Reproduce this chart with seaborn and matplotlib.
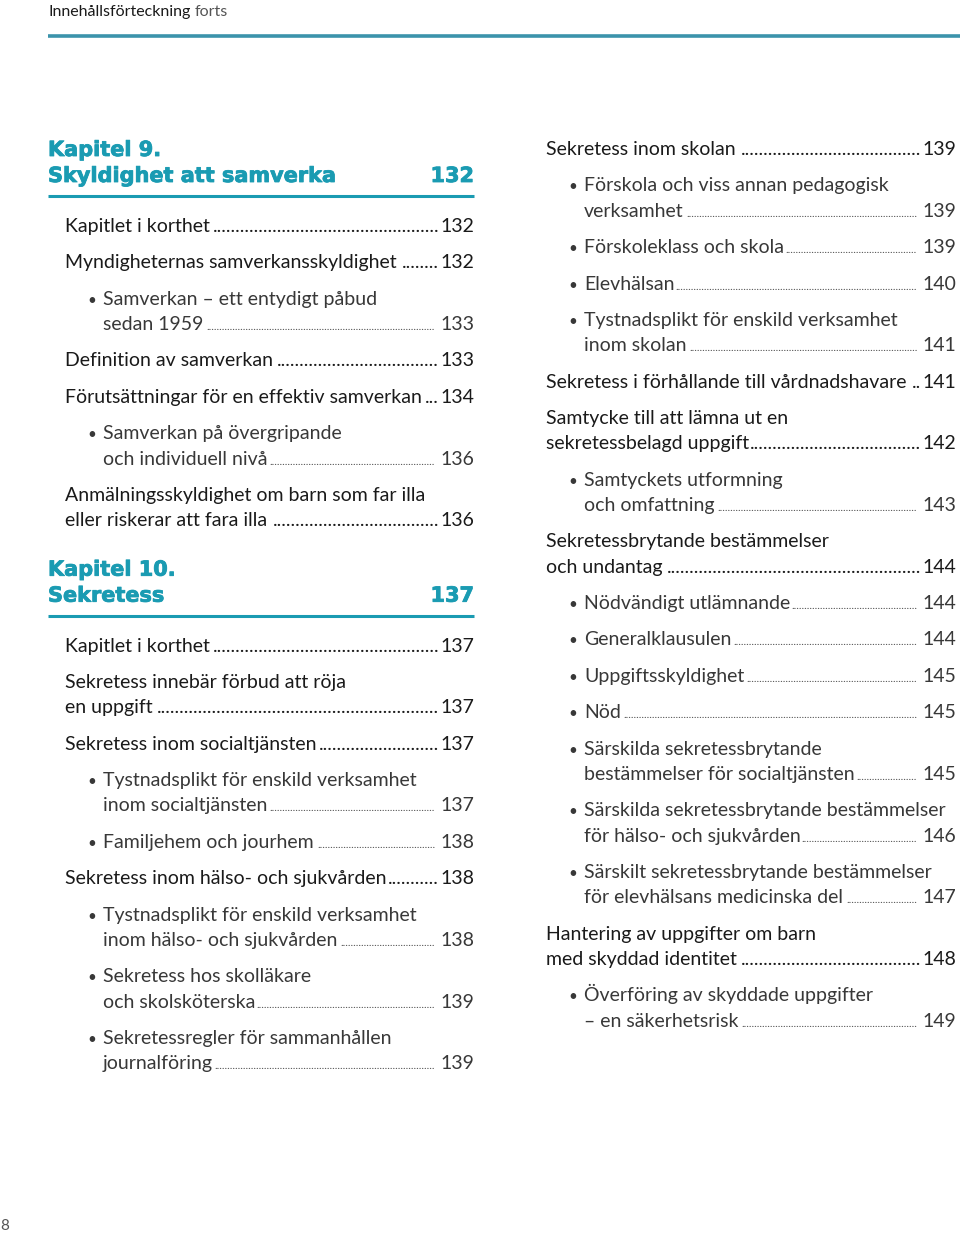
import matplotlib
matplotlib.use("Agg")
import matplotlib.pyplot as plt
import matplotlib.patheffects as pe
import seaborn as sns

# ---- data -------------------------------------------------------------
header_title = "Innehållsförteckning"
header_suffix = "forts"
folio = "8"

chapter_labels = ["Kapitel 9.", "Kapitel 10."]
chapter_titles = ["Skyldighet att samverka", "Sekretess"]
chapter_pages = ["132", "137"]

ch9_titles = [
    "Kapitlet i korthet",
    "Myndigheternas samverkansskyldighet",
    "Samverkan – ett entydigt påbud\nsedan 1959",
    "Definition av samverkan",
    "Förutsättningar för en effektiv samverkan",
    "Samverkan på övergripande\noch individuell nivå",
    "Anmälningsskyldighet om barn som far illa\neller riskerar att fara illa",
]
ch9_levels = [0, 0, 1, 0, 0, 1, 0]
ch9_pages = ["132", "132", "133", "133", "134", "136", "136"]

ch10_titles = [
    "Kapitlet i korthet",
    "Sekretess innebär förbud att röja\nen uppgift",
    "Sekretess inom socialtjänsten",
    "Tystnadsplikt för enskild verksamhet\ninom socialtjänsten",
    "Familjehem och jourhem",
    "Sekretess inom hälso- och sjukvården",
    "Tystnadsplikt för enskild verksamhet\ninom hälso- och sjukvården",
    "Sekretess hos skolläkare\noch skolsköterska",
    "Sekretessregler för sammanhållen\njournalföring",
]
ch10_levels = [0, 0, 0, 1, 1, 0, 1, 1, 1]
ch10_pages = ["137", "137", "137", "137", "138", "138", "138", "139", "139"]

right_titles = [
    "Sekretess inom skolan",
    "Förskola och viss annan pedagogisk\nverksamhet",
    "Förskoleklass och skola",
    "Elevhälsan",
    "Tystnadsplikt för enskild verksamhet\ninom skolan",
    "Sekretess i förhållande till vårdnadshavare",
    "Samtycke till att lämna ut en\nsekretessbelagd uppgift",
    "Samtyckets utformning\noch omfattning",
    "Sekretessbrytande bestämmelser\noch undantag",
    "Nödvändigt utlämnande",
    "Generalklausulen",
    "Uppgiftsskyldighet",
    "Nöd",
    "Särskilda sekretessbrytande\nbestämmelser för socialtjänsten",
    "Särskilda sekretessbrytande bestämmelser\nför hälso- och sjukvården",
    "Särskilt sekretessbrytande bestämmelser\nför elevhälsans medicinska del",
    "Hantering av uppgifter om barn\nmed skyddad identitet",
    "Överföring av skyddade uppgifter\n– en säkerhetsrisk",
]
right_levels = [0, 1, 1, 1, 1, 0, 0, 1, 0, 1, 1, 1, 1, 1, 1, 1, 0, 1]
right_pages = ["139", "139", "139", "140", "141", "141", "142", "143", "144",
               "144", "144", "145", "145", "145", "146", "147", "148", "149"]

# ---- style ------------------------------------------------------------
TEAL = "#1a9bb2"
INK = "#1a1a1a"
SUB_INK = "#383838"
FONT = "Lato"
MAIN_SIZE = 14
SUB_SIZE = 14
HEAD_SIZE = 15
LINE_STEP = 25.3
ENTRY_GAP = 36.4

sns.set_theme(style="white")
plt.rcParams["font.family"] = [FONT, "DejaVu Sans"]

fig = plt.figure(figsize=(9.6, 12.34), dpi=100)
ax = fig.add_axes([0, 0, 1, 1])
ax.set_xlim(0, 960)
ax.set_ylim(1234, 0)
ax.axis("off")
renderer = fig.canvas.get_renderer()
heavy = [pe.withStroke(linewidth=0.6, foreground=TEAL)]


def text_width(t):
    return t.get_window_extent(renderer=renderer).width


def dot_width(size, weight):
    t = ax.text(0, -100, "." * 40, fontsize=size, fontweight=weight)
    w = text_width(t) / 40
    t.remove()
    return w


def leader(x_start, x_end, y, size, weight, color):
    dw = dot_width(size, weight)
    n = int((x_end - x_start) / dw)
    if n > 0:
        ax.text(x_end, y, "." * n, ha="right", va="baseline",
                fontsize=size, fontweight=weight, color=color)


def draw_entries(x_main, x_right, y, titles, levels, pages):
    for title, level, page in zip(titles, levels, pages):
        lines = title.split("\n")
        if level == 0:
            x_txt, size, color = x_main, MAIN_SIZE, INK
        else:
            x_txt, size, color = x_main + 38, SUB_SIZE, SUB_INK
            ax.text(x_main + 22, y, "•", ha="left", va="baseline",
                    fontsize=11, color=SUB_INK)
        for i, line in enumerate(lines):
            yl = y + i * LINE_STEP
            t = ax.text(x_txt, yl, line, ha="left", va="baseline",
                        fontsize=size, color=color)
        yl = y + (len(lines) - 1) * LINE_STEP
        p = ax.text(x_right, yl, page, ha="right", va="baseline",
                    fontsize=size, color=color)
        x_end_txt = x_txt + text_width(t)
        x_page = x_right - text_width(p)
        if level == 0:
            leader(x_end_txt + 1, x_page - 1, yl, size, "normal", INK)
        else:
            leader(x_end_txt + 1, x_page - 5, yl, 8, "normal", "#555555")
        y = yl + ENTRY_GAP
    return y


def draw_chapter(x0, x1, y, label, title, page):
    kw = dict(va="baseline", fontsize=HEAD_SIZE, fontweight="bold",
              color=TEAL, family="DejaVu Sans", path_effects=heavy)
    ax.text(x0, y, label, ha="left", **kw)
    y2 = y + 26
    ax.text(x0, y2, title, ha="left", **kw)
    ax.text(x1, y2, page, ha="right", **kw)
    ax.plot([x0, x1], [y2 + 14, y2 + 14], color=TEAL, lw=2.2,
            solid_capstyle="butt")
    return y2 + 14 + 36


# header
h = ax.text(48, 16, header_title, ha="left", va="baseline", fontsize=11.5,
            color=INK)
ax.text(48 + text_width(h) + 4, 16, header_suffix, ha="left", va="baseline",
        fontsize=11.5, color="#555555")
ax.plot([48, 960], [36, 36], color="#3b93ab", lw=2.6, solid_capstyle="butt")

# left column
y = draw_chapter(48, 474, 156, chapter_labels[0], chapter_titles[0],
                 chapter_pages[0])
y = draw_entries(65, 474, y, ch9_titles, ch9_levels, ch9_pages)
y = draw_chapter(48, 474, y + 13, chapter_labels[1], chapter_titles[1],
                 chapter_pages[1])
draw_entries(65, 474, y, ch10_titles, ch10_levels, ch10_pages)

# right column
draw_entries(546, 956, 155, right_titles, right_levels, right_pages)

ax.text(0, 1230, folio, ha="left", va="baseline", fontsize=11,
        color="#555555")

fig.savefig("out.png", dpi=100)
